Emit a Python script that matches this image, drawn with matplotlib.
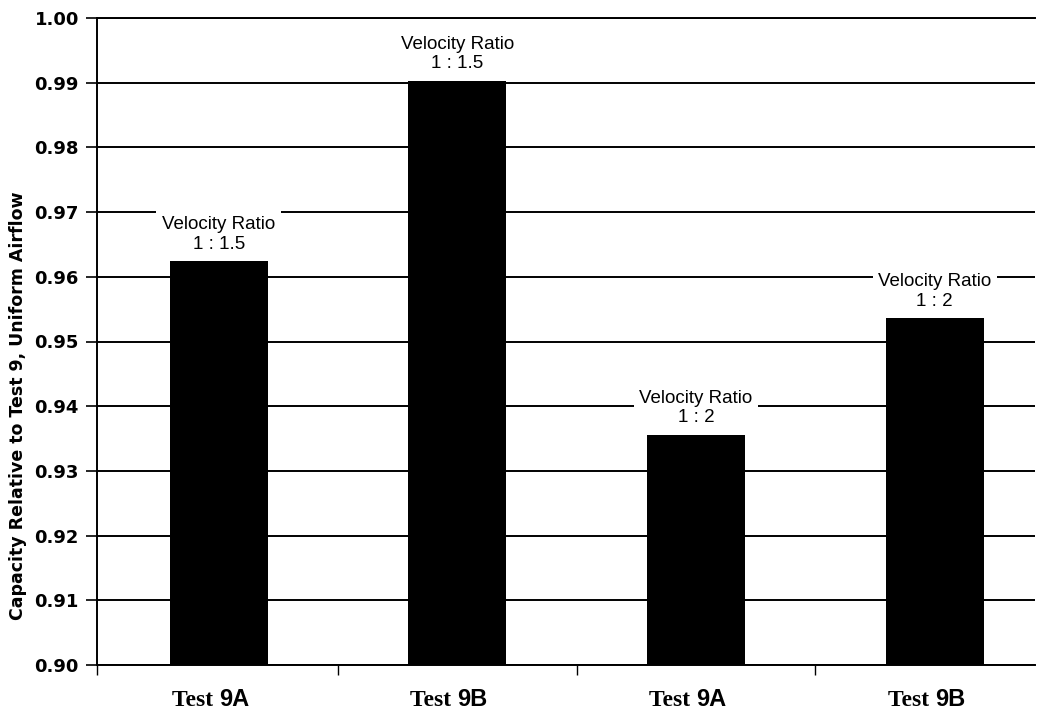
import numpy as np
import matplotlib.pyplot as plt
from matplotlib.transforms import blended_transform_factory

# Data
tests = ["9A", "9B", "9A", "9B"]
capacity = [0.9624, 0.9903, 0.9356, 0.9536]
ratio_labels = ["1 : 1.5", "1 : 1.5", "1 : 2", "1 : 2"]
y_ticks = [0.90, 0.91, 0.92, 0.93, 0.94, 0.95, 0.96, 0.97, 0.98, 0.99, 1.00]

fig = plt.figure(figsize=(10.38, 7.12), dpi=100)
ax = fig.add_axes([97 / 1038, (712 - 665) / 712, (1035 - 97) / 1038, (665 - 18) / 712])

x = np.arange(len(capacity))
ax.bar(x, capacity, width=0.41, color="black", zorder=3)

ax.set_ylim(0.90, 1.00)
ax.set_xlim(-0.51, 3.42)
ax.set_yticks(y_ticks)
ax.set_yticklabels([f"{v:.2f}" for v in y_ticks],
                   fontfamily="DejaVu Sans", fontweight="bold", fontsize=13)
ax.tick_params(axis="y", direction="out", length=8, width=1.2, pad=5)
ax.yaxis.grid(True, color="black", linewidth=1.4, zorder=0)

# category boundaries as ticks on the x axis
ax.set_xticks([-0.51, 0.5, 1.5, 2.5])
ax.set_xticklabels([])
ax.tick_params(axis="x", direction="out", length=7, width=1.0)

ax.spines["right"].set_visible(False)
for s in ["left", "bottom", "top"]:
    ax.spines[s].set_linewidth(1.4)

# velocity ratio labels above bars
for xi, v, r in zip(x, capacity, ratio_labels):
    ax.annotate(f"Velocity Ratio\n{r}", (xi, v), xytext=(0, 6),
                textcoords="offset points", ha="center", va="bottom",
                fontfamily="Liberation Sans", fontsize=13.5, linespacing=1.2,
                bbox=dict(boxstyle="square,pad=0.3", fc="white", ec="none"),
                zorder=4)

# x labels: "Test" in serif, number in sans bold
trans = blended_transform_factory(ax.transData, fig.transFigure)
for xi, t in zip(x, tests):
    ax.text(xi, 1 - 700 / 712, "Test ", transform=trans, ha="right", va="center",
            fontfamily="Liberation Serif", fontweight="bold", fontsize=17)
    ax.text(xi, 1 - 700 / 712, t, transform=trans, ha="left", va="center",
            fontfamily="Liberation Sans", fontweight="bold", fontsize=17)

fig.text(18 / 1038, 1 - 406 / 712, "Capacity Relative to Test 9, Uniform Airflow",
         rotation=90, ha="center", va="center",
         fontfamily="DejaVu Sans", fontweight="bold", fontsize=12.5)

fig.savefig("out.png", dpi=100)
